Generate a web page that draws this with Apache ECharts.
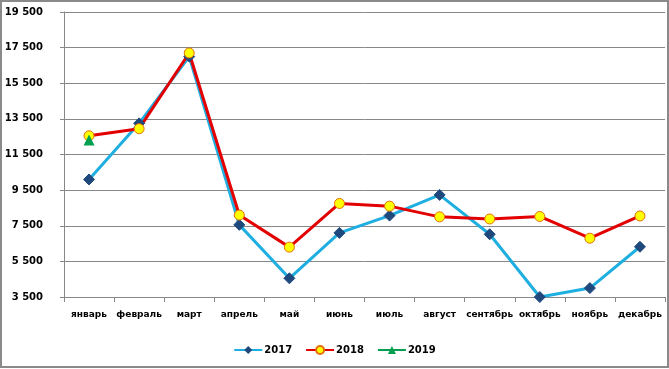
<!DOCTYPE html>
<html>
<head>
<meta charset="utf-8">
<script src="https://cdn.jsdelivr.net/npm/echarts@6/dist/echarts.min.js"></script>
<style>html,body{margin:0;padding:0;background:#fff}#c{width:669px;height:369px}</style>
</head>
<body>
<div id="c"></div>
<script>
var categories = ['январь','февраль','март','апрель','май','июнь','июль','август','сентябрь','октябрь','ноябрь','декабрь'];
var s2017 = [10100, 13250, 17000, 7550, 4550, 7100, 8070, 9230, 7020, 3500, 4000, 6320];
var s2018 = [12550, 12950, 17200, 8100, 6300, 8750, 8600, 8000, 7880, 8020, 6800, 8050];
var s2019 = [12320, null, null, null, null, null, null, null, null, null, null, null];
var yMin = 3500, yMax = 19500, yStep = 2000;

function fmt(v){ var s = String(v); return s.length > 3 ? s.slice(0, s.length-3) + ' ' + s.slice(-3) : s; }

var chart = echarts.init(document.getElementById('c'));
var font = 'DejaVu Sans';
chart.setOption({
  animation: false,
  backgroundColor: '#fff',
  grid: { left: 64, right: 4, top: 12, bottom: 72, containLabel: false },
  xAxis: {
    type: 'category', data: categories, boundaryGap: true,
    axisLine: { lineStyle: { color: '#888', width: 1 } },
    axisTick: { show: true, length: 5, alignWithLabel: false, lineStyle: { color: '#888' } },
    axisLabel: { color: '#000', fontFamily: font, fontWeight: 'bold', fontSize: 9, margin: 13, interval: 0 }
  },
  yAxis: {
    type: 'value', min: yMin, max: yMax, interval: yStep,
    axisLine: { show: true, lineStyle: { color: '#888', width: 1 } },
    axisTick: { show: true, length: 4, lineStyle: { color: '#888' } },
    splitLine: { lineStyle: { color: '#888', width: 1 } },
    axisLabel: { color: '#000', fontFamily: font, fontWeight: 'bold', fontSize: 10, margin: 21, formatter: fmt }
  },
  legend: {
    top: 340, left: 'center', itemWidth: 28, itemHeight: 10, itemGap: 13,
    textStyle: { color: '#000', fontFamily: font, fontWeight: 'bold', fontSize: 10, padding: [0,0,0,-3] },
    data: ['2017', '2018', '2019']
  },
  graphic: [{ type: 'rect', shape: { x: 1, y: 1, width: 667, height: 366 }, style: { fill: 'none', stroke: '#8a8a8a', lineWidth: 2 }, silent: true }],
  series: [
    { name: '2017', type: 'line', data: s2017, symbol: 'diamond', symbolSize: 11,
      lineStyle: { color: '#1EAEE0', width: 3 }, itemStyle: { color: '#1F497D', borderColor: '#1F497D' } },
    { name: '2018', type: 'line', data: s2018, symbol: 'circle', symbolSize: 10,
      lineStyle: { color: '#E30000', width: 3 }, itemStyle: { color: '#FFFF00', borderColor: '#E46C0A', borderWidth: 1 } },
    { name: '2019', type: 'line', data: s2019, symbol: 'triangle', symbolSize: 11,
      lineStyle: { color: '#00A050', width: 3 }, itemStyle: { color: '#00A050' } }
  ]
});
</script>
</body>
</html>
